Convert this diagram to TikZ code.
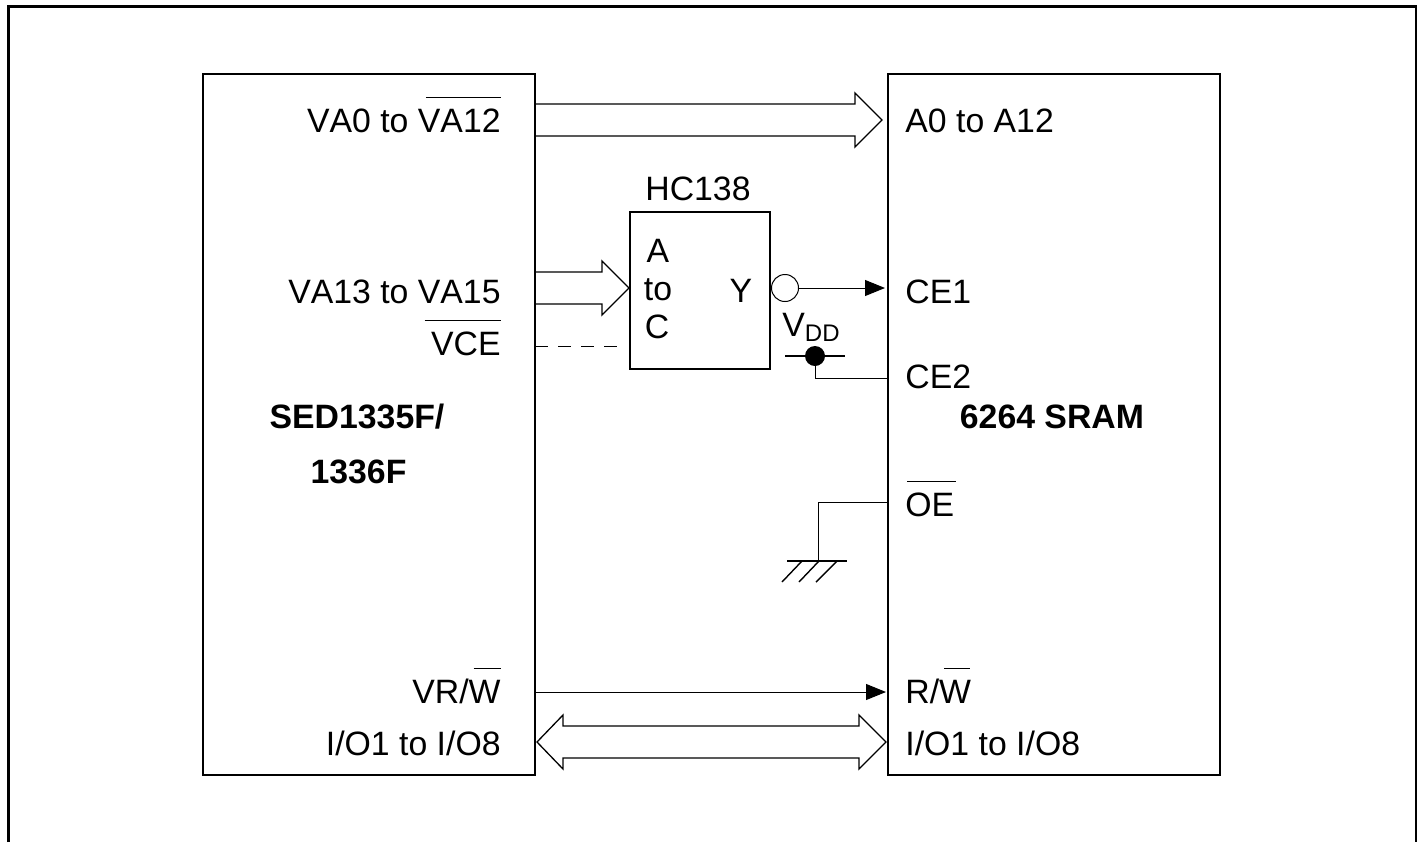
\documentclass[tikz,border=0pt]{standalone}
\usepackage{fontspec}
\setmainfont[Kerning=Off]{Liberation Sans}
\usepackage{tikz}
\usetikzlibrary{arrows.meta, positioning, calc}
% shift of the bar, length of the bar, text
\newcommand{\barred}[3]{\leavevmode\vbox{\offinterlineskip\hbox to 0pt{\kern#1\vrule width #2 height 0.55pt depth 0pt\hss}\kern 5.2pt\hbox{#3}}}
% tail, tip
\newcommand{\busright}[2]{\draw[busline] ($(#1)+(0,-16)$) -- ($(#2)+(-27,-16)$) -- ($(#2)+(-27,-27)$) -- (#2) -- ($(#2)+(-27,27)$) -- ($(#2)+(-27,16)$) -- ($(#1)+(0,16)$);}
\begin{document}
\begin{tikzpicture}[
    x=0.5pt, y=-0.5pt,
    font=\fontsize{16.9}{20}\selectfont,
    chipnode/.style={rectangle, draw=black, fill=white, line width=1.1pt, inner sep=0pt, outer sep=0pt},
    leftlabel/.style={anchor=base east, inner sep=0pt},
    rightlabel/.style={anchor=base west, inner sep=0pt},
    textlabel/.style={anchor=base, inner sep=0pt},
    titlelabel/.style={anchor=base, inner sep=0pt, font=\fontsize{16.9}{20}\selectfont\bfseries},
    busline/.style={line width=0.65pt, miter limit=10},
    arrow/.style={-{Triangle[length=10pt, width=8pt]}, line width=0.5pt},
    wire/.style={line width=0.5pt},
    railbar/.style={line width=0.8pt}
]
    \useasboundingbox (0,0) rectangle (1421,842);

    % Frame
    \draw[line width=1.35pt] (8.7,842) -- (8.7,6.5) -- (1416,6.5) -- (1416,842);

    % Nodes
    \node[chipnode, minimum width=166pt, minimum height=350.5pt] (sed) at (369,424.5) {};
    \node[chipnode, minimum width=166pt, minimum height=350.5pt] (sram) at (1054,424.5) {};
    \node[chipnode, minimum width=70pt, minimum height=78.5pt] (decoder) at (700,290.5) {};
    \node[circle, draw=black, wire, minimum size=13.5pt, inner sep=0pt, outer sep=0pt] (bubble) at (785,288) {};
    \node[circle, fill=black, minimum size=10pt, inner sep=0pt, outer sep=0pt] (vddpin) at (815,356) {};

    % Labels
    \node[leftlabel] (va0) at (501,132) {VA0 to \barred{4pt}{37.5pt}{VA12}};
    \node[leftlabel] (va13) at (501,303) {VA13 to VA15};
    \node[leftlabel] (vce) at (501,355) {\barred{-3.2pt}{38pt}{VCE}};
    \node[leftlabel] (vrw) at (501,703) {VR/\barred{2.5pt}{13.5pt}{W}};
    \node[leftlabel] (iol) at (501,755) {I/O1 to I/O8};
    \node[titlelabel] (sedname) at (357,428) {SED1335F/};
    \node[titlelabel] (sedname2) at (358.5,483) {1336F};

    \node[rightlabel] (a0) at (905,132) {A0 to A12};
    \node[rightlabel] (ce1) at (905,303) {CE1};
    \node[rightlabel] (ce2) at (905,388) {CE2};
    \node[rightlabel] (oe) at (905,516) {\barred{1pt}{24.5pt}{OE}};
    \node[rightlabel] (rw) at (905,703) {R/\barred{2.5pt}{13pt}{W}};
    \node[rightlabel] (ior) at (905,755) {I/O1 to I/O8};
    \node[titlelabel] (sramname) at (1052,428) {6264 SRAM};

    \node[textlabel] (hcname) at (698,200) {HC138};
    \node[textlabel] (pina) at (658,262) {A};
    \node[textlabel] (pinto) at (658,300) {to};
    \node[textlabel] (pinc) at (657,338) {C};
    \node[textlabel] (piny) at (741,302) {Y};
    \node[rightlabel] (vdd) at (782,336) {V\raisebox{-2.5pt}{\fontsize{12}{14}\selectfont DD}};

    % Connection points
    \coordinate (addr) at (882,120);
    \coordinate (high) at (629,288);
    \coordinate (vceline) at (617,346);
    \coordinate (cepin) at (885,288);
    \coordinate (rwpin) at (886,692);
    \coordinate (datal) at (537,742);
    \coordinate (datar) at (886,742);
    \coordinate (ce2pin) at (888,378);
    \coordinate (oepin) at (888,502);
    \coordinate (gnd) at (818,561);
    \coordinate (railw) at (785,356);
    \coordinate (raile) at (845,356);
    \coordinate (gndw) at (787,561);
    \coordinate (gnde) at (847,561);

    % Edges
    \busright{sed.east |- addr}{addr}
    \busright{sed.east |- high}{high}
    \draw[busline] (datal) -- ($(datal)+(26,-27)$) -- ($(datal)+(26,-16)$) -- ($(datar)+(-27,-16)$) -- ($(datar)+(-27,-27)$) -- (datar) -- ($(datar)+(-27,27)$) -- ($(datar)+(-27,16)$) -- ($(datal)+(26,16)$) -- ($(datal)+(26,27)$) -- cycle;
    \draw[wire, dash pattern=on 6.5pt off 5pt] (sed.east |- vceline) -- (vceline);
    \draw[arrow] (bubble) -- (cepin);
    \draw[arrow] (sed.east |- rwpin) -- (rwpin);
    \draw[railbar] (railw) -- (raile);
    \draw[wire] (vddpin) |- (ce2pin);
    \draw[wire] (oepin) -| (gnd);
    \draw[railbar] (gndw) -- (gnde);

    % Ground hatch
    \foreach \xa/\xb in {802/782, 819/799, 837/816}
        \draw[line width=0.7pt] (\xa,561) -- (\xb,582);
\end{tikzpicture}
\end{document}
